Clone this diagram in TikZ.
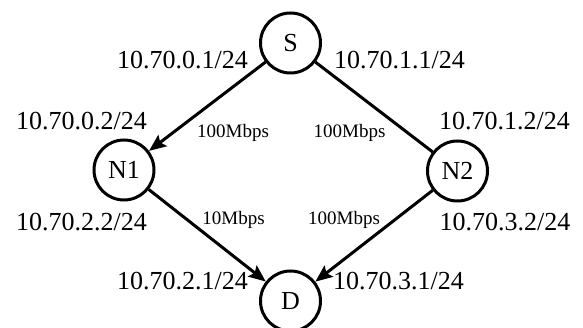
\documentclass[tikz,border=0pt]{standalone}
\usepackage{fontspec}
\setmainfont{Liberation Serif}
\usetikzlibrary{arrows.meta}

\begin{document}
\begin{tikzpicture}[x=1pt,y=1pt,yscale=-1,
	host/.style={draw,circle,line width=3pt,minimum size=60pt,inner sep=0pt,font=\fontsize{26}{30}\selectfont},
	addr/.style={anchor=base,inner sep=0pt,font=\fontsize{26}{30}\selectfont},
	rate/.style={anchor=base,inner sep=0pt,font=\fontsize{19}{22}\selectfont},
	link/.style={line width=3pt},
	flow/.style={link,-{Stealth[length=17pt,width=14pt,inset=3pt]}}]
		\useasboundingbox (0,0) rectangle (583,328);
		% hosts
		\node[host] (S) at (290.5,43) {S};
		\node[host] (N1) at (124,170) {N1};
		\node[host] (N2) at (457.5,171) {N2};
		\node[host] (D) at (290.5,301) {D};
		% links
		\draw[flow] (S) -- (N1);
		\draw[link] (S) -- (N2);
		\draw[flow] (N1) -- (D);
		\draw[flow] (N2) -- (D);
		% interface addresses
		\node[addr] (aS1) at (182.5,69) {10.70.0.1/24};
		\node[addr] (aS2) at (399.5,69) {10.70.1.1/24};
		\node[addr] (aN1a) at (81.5,130) {10.70.0.2/24};
		\node[addr] (aN2a) at (504.5,130) {10.70.1.2/24};
		\node[addr] (aN1b) at (81.5,231) {10.70.2.2/24};
		\node[addr] (aN2b) at (505,231) {10.70.3.2/24};
		\node[addr] (aD1) at (182.5,290) {10.70.2.1/24};
		\node[addr] (aD2) at (398.5,290) {10.70.3.1/24};
		% link rates
		\node[rate] (r1) at (233,138) {100Mbps};
		\node[rate] (r2) at (349.5,138) {100Mbps};
		\node[rate] (r3) at (233.5,225) {10Mbps};
		\node[rate] (r4) at (344,225) {100Mbps};
\end{tikzpicture}
\end{document}
